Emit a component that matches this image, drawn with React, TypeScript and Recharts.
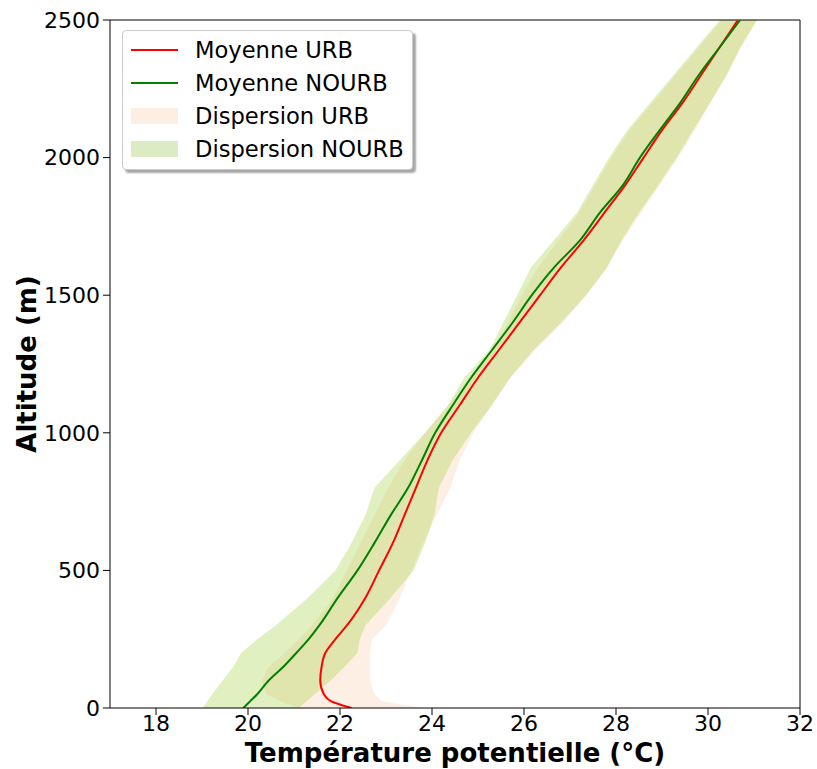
import React from 'react';
import { ComposedChart, Line, Area, XAxis, YAxis, ReferenceLine, Label } from 'recharts';

const altitudes = [0, 25, 50, 100, 150, 200, 250, 300, 400, 500, 600, 700, 800, 900, 1000, 1100, 1200, 1300, 1400, 1500, 1600, 1700, 1800, 1900, 2000, 2100, 2200, 2300, 2400, 2500];

const meanUrb = [22.25, 21.8, 21.65, 21.57, 21.6, 21.68, 21.9, 22.15, 22.55, 22.85, 23.15, 23.4, 23.65, 23.9, 24.2, 24.6, 25.0, 25.45, 25.9, 26.35, 26.8, 27.3, 27.75, 28.2, 28.6, 29.0, 29.45, 29.85, 30.25, 30.65];
const meanNourb = [19.9, 20.05, 20.2, 20.45, 20.77, 21.05, 21.32, 21.55, 21.95, 22.38, 22.75, 23.1, 23.48, 23.78, 24.07, 24.45, 24.85, 25.3, 25.75, 26.17, 26.65, 27.22, 27.65, 28.15, 28.52, 28.95, 29.4, 29.8, 30.25, 30.7];

const urbLow = [21.1, 20.7, 20.4, 20.3, 20.45, 20.8, 21.1, 21.4, 21.85, 22.15, 22.45, 22.75, 23.05, 23.4, 23.85, 24.35, 24.8, 25.3, 25.65, 25.95, 26.3, 26.75, 27.2, 27.55, 27.9, 28.3, 28.8, 29.3, 29.8, 30.3];
const urbHigh = [23.8, 22.9, 22.75, 22.65, 22.65, 22.65, 22.7, 23.0, 23.3, 23.55, 23.8, 24.1, 24.4, 24.6, 24.9, 25.3, 25.7, 26.25, 26.85, 27.35, 27.8, 28.15, 28.55, 28.95, 29.35, 29.72, 30.05, 30.42, 30.72, 31.05];

const nourbLow = [19.02, 19.12, 19.22, 19.45, 19.68, 19.85, 20.2, 20.6, 21.3, 21.9, 22.25, 22.55, 22.75, 23.3, 23.85, 24.35, 24.7, 25.25, 25.55, 25.85, 26.15, 26.65, 27.15, 27.5, 27.85, 28.25, 28.75, 29.25, 29.75, 30.26];
const nourbHigh = [21.1, 21.28, 21.45, 21.8, 22.1, 22.38, 22.43, 22.55, 23.1, 23.6, 23.85, 24.05, 24.15, 24.45, 24.85, 25.3, 25.7, 26.2, 26.8, 27.35, 27.8, 28.12, 28.5, 28.92, 29.32, 29.68, 30.05, 30.4, 30.7, 31.07];

const xTicks = [18, 20, 22, 24, 26, 28, 30, 32];
const yTicks = [0, 500, 1000, 1500, 2000, 2500];

const data = altitudes.map((alt, i) => ({
  alt,
  urb: meanUrb[i],
  nourb: meanNourb[i],
  urbRange: [urbLow[i], urbHigh[i]],
  nourbRange: [nourbLow[i], nourbHigh[i]],
}));

const FONT = '"DejaVu Sans", sans-serif';
const URB_FILL = '#fdeadb';
const NOURB_FILL = '#9acd32';

const legendItems = [
  { label: 'Moyenne URB', kind: 'line', color: '#ff0000' },
  { label: 'Moyenne NOURB', kind: 'line', color: '#008000' },
  { label: 'Dispersion URB', kind: 'patch', color: '#fdeee4' },
  { label: 'Dispersion NOURB', kind: 'patch', color: '#dcebc4' },
];

// matplotlib-like legend box, placed over the plot
const LegendBox = () => (
  <div
    style={{
      position: 'absolute',
      left: 122,
      top: 30,
      width: 289,
      height: 136,
      border: '1px solid #cccccc',
      borderRadius: 4,
      background: '#fff',
      boxShadow: '3px 3px 2px rgba(0,0,0,0.35)',
      fontFamily: FONT,
      fontSize: 22.6,
      paddingTop: 2,
    }}
  >
    {legendItems.map((it) => (
      <div key={it.label} style={{ height: 33, display: 'flex', alignItems: 'center', color: '#000' }}>
        <div style={{ width: 47, marginLeft: 8, marginRight: 17, display: 'flex', alignItems: 'center' }}>
          {it.kind === 'line' ? (
            <div style={{ width: 47, height: 2, background: it.color }} />
          ) : (
            <div style={{ width: 47, height: 16, background: it.color }} />
          )}
        </div>
        <span>{it.label}</span>
      </div>
    ))}
  </div>
);

const YLabel = ({ viewBox }: any) => {
  const cy = viewBox.y + viewBox.height / 2;
  return (
    <text x={27} y={cy} transform={`rotate(-90 27 ${cy})`} textAnchor="middle" dominantBaseline="central" fontFamily={FONT} fontSize={26} fontWeight="bold" fill="#000">
      Altitude (m)
    </text>
  );
};

const XLabel = ({ viewBox }: any) => (
  <text x={viewBox.x + viewBox.width / 2} y={762} textAnchor="middle" fontFamily={FONT} fontSize={26} fontWeight="bold" fill="#000">
    Température potentielle (°C)
  </text>
);

export default function App() {
  return (
    <div style={{ position: 'absolute', left: 0, top: 0, width: 817, height: 769, background: '#fff' }}>
      <ComposedChart width={817} height={769} data={data} layout="vertical" margin={{ top: 20, right: 17, bottom: 0, left: 0 }}>
        <XAxis
          type="number"
          dataKey="urb"
          domain={[17, 32]}
          ticks={xTicks}
          allowDataOverflow
          height={61}
          tickSize={7}
          tickMargin={0}
          stroke="#000"
          tick={{ fill: '#000', fontSize: 22, fontFamily: FONT }}
        >
          <Label content={<XLabel />} />
        </XAxis>
        <YAxis
          type="number"
          dataKey="alt"
          domain={[0, 2500]}
          ticks={yTicks}
          reversed
          allowDataOverflow
          width={110}
          tickSize={7}
          tickMargin={3}
          stroke="#000"
          tick={{ fill: '#000', fontSize: 22, fontFamily: FONT }}
        >
          <Label content={<YLabel />} />
        </YAxis>
        <ReferenceLine x={32} stroke="#000" />
        <ReferenceLine y={2500} stroke="#000" />
        <Area type="linear" dataKey="urbRange" fill={URB_FILL} fillOpacity={0.75} stroke="none" isAnimationActive={false} />
        <Area type="linear" dataKey="nourbRange" fill={NOURB_FILL} fillOpacity={0.3} stroke="none" isAnimationActive={false} />
        <Line type="monotone" dataKey="urb" stroke="#ff0000" strokeWidth={2} dot={false} isAnimationActive={false} />
        <Line type="monotone" dataKey="nourb" stroke="#008000" strokeWidth={2} dot={false} isAnimationActive={false} />
      </ComposedChart>
      <LegendBox />
    </div>
  );
}
